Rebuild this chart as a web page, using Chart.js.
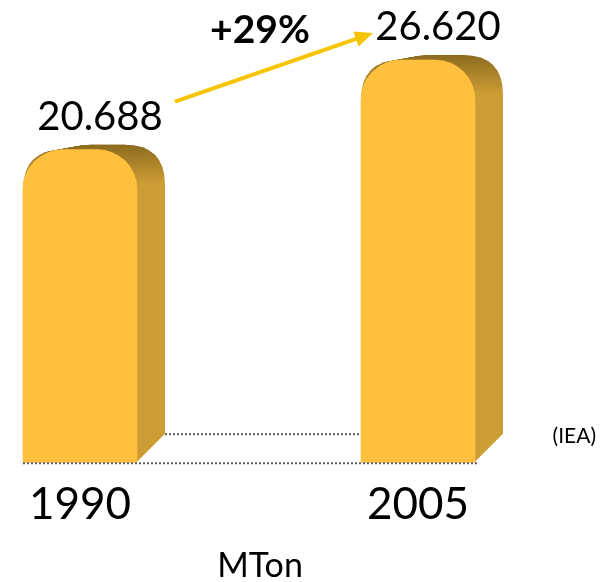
<!DOCTYPE html>
<html>
<head>
<meta charset="utf-8">
<script src="https://cdn.jsdelivr.net/npm/chart.js@4"></script>
<style>
  html, body { margin: 0; padding: 0; background: #fff; }
  #wrap { width: 609px; height: 582px; }
</style>
</head>
<body>
<div id="wrap"><canvas id="myChart"></canvas></div>
<script>
const years = ['1990', '2005'];
const emissions = [20.688, 26.62];
const valueLabels = ['20.688', '26.620'];
const growthLabel = '+29%';
const unitLabel = 'MTon';
const sourceLabel = '(IEA)';

const FONT = 'Lato, "Liberation Sans", sans-serif';
const FRONT = '#ffc03e';
const SIDE = '#cd9d35';
const TOPDARK = '#8c6b1f';
const DEPTH = 28;

function roundTopRect(ctx, l, t, r, b, rad) {
  ctx.beginPath();
  ctx.moveTo(l, b);
  ctx.lineTo(l, t + rad);
  ctx.quadraticCurveTo(l, t, l + rad, t);
  ctx.lineTo(r - rad, t);
  ctx.quadraticCurveTo(r, t, r, t + rad);
  ctx.lineTo(r, b);
  ctx.closePath();
}

const boxes = {
  id: 'boxes',
  beforeDatasetsDraw(chart) {
    const ctx = chart.ctx;
    const bars = chart.getDatasetMeta(0).data;
    ctx.save();
    // back dotted line
    const b0 = bars[0], b1 = bars[1];
    ctx.strokeStyle = '#5f5f5f';
    ctx.lineWidth = 2;
    ctx.setLineDash([2, 2]);
    ctx.beginPath();
    ctx.moveTo(b0.x + b0.width / 2 + DEPTH, b0.base - DEPTH);
    ctx.lineTo(b1.x - b1.width / 2, b0.base - DEPTH);
    ctx.stroke();
    ctx.setLineDash([]);
    // extruded side and top
    bars.forEach((bar) => {
      const l = bar.x - bar.width / 2, r = bar.x + bar.width / 2;
      const g = ctx.createLinearGradient(0, bar.y - 5, 0, bar.y + 34);
      g.addColorStop(0, TOPDARK);
      g.addColorStop(1, SIDE);
      ctx.fillStyle = g;
      for (let i = DEPTH; i >= 0; i--) {
        const t = i / DEPTH;
        roundTopRect(ctx, l + DEPTH * t, bar.y - 5 * t, r + DEPTH * t, bar.base - DEPTH * t, 40);
        ctx.fill();
      }
    });
    ctx.restore();
  },
  afterDatasetsDraw(chart) {
    const ctx = chart.ctx;
    const bars = chart.getDatasetMeta(0).data;
    const b0 = bars[0], b1 = bars[1];
    ctx.save();
    // base dotted line
    ctx.strokeStyle = '#5f5f5f';
    ctx.lineWidth = 2;
    ctx.setLineDash([2, 2]);
    ctx.beginPath();
    ctx.moveTo(b0.x - b0.width / 2, b0.base + 1);
    ctx.lineTo(b1.x + b1.width / 2 + 2, b0.base + 1);
    ctx.stroke();
    ctx.setLineDash([]);

    // value labels
    ctx.fillStyle = '#000';
    ctx.textAlign = 'center';
    ctx.textBaseline = 'alphabetic';
    ctx.font = '40px ' + FONT;
    bars.forEach((bar, i) => {
      ctx.fillText(valueLabels[i], bar.x + 20, bar.y - 20);
    });

    // growth arrow
    const x1 = b0.x + 95, y1 = b0.y - 48;
    const x2 = b1.x - 45, y2 = b1.y - 27;
    const ang = Math.atan2(y2 - y1, x2 - x1);
    ctx.strokeStyle = '#f6c400';
    ctx.fillStyle = '#f6c400';
    ctx.lineWidth = 4;
    ctx.beginPath();
    ctx.moveTo(x1, y1);
    ctx.lineTo(x2 - 14 * Math.cos(ang), y2 - 14 * Math.sin(ang));
    ctx.stroke();
    ctx.beginPath();
    ctx.moveTo(x2, y2);
    ctx.lineTo(x2 - 18 * Math.cos(ang) + 8 * Math.sin(ang), y2 - 18 * Math.sin(ang) - 8 * Math.cos(ang));
    ctx.lineTo(x2 - 18 * Math.cos(ang) - 8 * Math.sin(ang), y2 - 18 * Math.sin(ang) + 8 * Math.cos(ang));
    ctx.closePath();
    ctx.fill();

    ctx.fillStyle = '#000';
    ctx.textAlign = 'center';
    ctx.font = 'bold 39px ' + FONT;
    ctx.fillText(growthLabel, (b0.x + b1.x) / 2 + 11, b1.y - 17);

    // unit and source
    ctx.font = '34px ' + FONT;
    ctx.fillText(unitLabel, (b0.x + b1.x) / 2 + 11, 577);
    ctx.textAlign = 'right';
    ctx.font = '21px ' + FONT;
    ctx.fillText(sourceLabel, 596, 443);
    ctx.restore();
  }
};

const ctx = document.getElementById('myChart').getContext('2d');
const myChart = new Chart(ctx, {
  type: 'bar',
  data: {
    labels: years,
    datasets: [
      {
        label: 'MTon',
        data: emissions,
        backgroundColor: FRONT,
        borderWidth: 0,
        barThickness: 114,
        borderRadius: { topLeft: 40, topRight: 40, bottomLeft: 0, bottomRight: 0 },
        borderSkipped: false,
        clip: false,
      },
    ],
  },
  options: {
    responsive: true,
    maintainAspectRatio: false,
    animation: false,
    layout: {
      padding: { top: 9, left: 80, right: 191, bottom: 35 },
    },
    plugins: {
      legend: { display: false },
      tooltip: { enabled: false },
    },
    scales: {
      x: {
        offset: false,
        grid: { display: false, drawTicks: false },
        border: { display: false },
        ticks: {
          color: '#000',
          padding: 16,
          font: { family: FONT, size: 44, lineHeight: 1.2 },
          maxRotation: 0,
          autoSkip: false,
        },
      },
      y: {
        display: false,
        min: 0,
        max: 30,
      },
    },
  },
  plugins: [boxes],
});
</script>
</body>
</html>
